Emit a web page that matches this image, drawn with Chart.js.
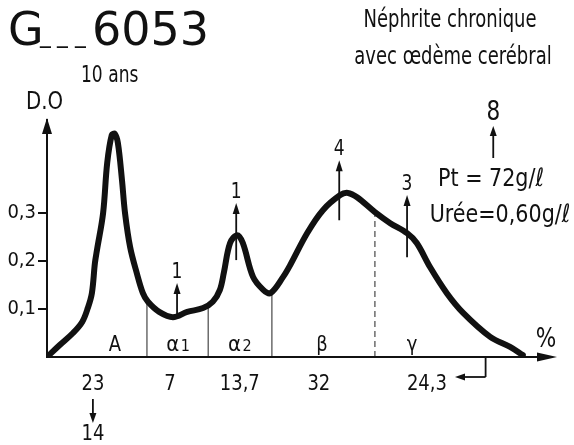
<!DOCTYPE html>
<html lang="fr">
<head>
<meta charset="UTF-8" />
<title>G___6053</title>
<script src="https://cdn.jsdelivr.net/npm/chart.js@4"></script>
<style>
  html, body { margin: 0; padding: 0; background: #fff; }
</style>
</head>
<body>
<canvas id="chart" width="574" height="445"></canvas>
<script>
  // densitometry curve (x: migration distance, arbitrary 0-100 ; y: D.O)
  const curveX = [0, 2.5, 5.1, 6.9, 8.0, 8.8, 9.4, 9.8, 11.0, 11.8, 12.7, 13.3, 13.9, 14.7, 15.3, 16.3, 17.6, 18.8, 19.8,
    22.0, 24.7, 27.5, 30.6, 32.5, 33.9, 34.7, 35.9, 37.3, 38.4, 40.4, 42.4, 43.8, 46.3, 47.6, 51.0, 54.1, 57.5, 59.0,
    60.8, 64.3, 67.3, 70.6, 72.5, 75.1, 78.4, 81.6, 86.9, 90.8, 93.3];
  const curveY = [0, 0.025, 0.05, 0.073, 0.102, 0.133, 0.196, 0.223, 0.30, 0.404, 0.4625, 0.465, 0.446, 0.369, 0.30, 0.229, 0.175, 0.133, 0.115,
    0.094, 0.083, 0.094, 0.102, 0.115, 0.14, 0.177, 0.2375, 0.254, 0.2375, 0.167, 0.14, 0.133, 0.167, 0.19, 0.258, 0.306, 0.3375, 0.342,
    0.333, 0.302, 0.279, 0.258, 0.2375, 0.1875, 0.133, 0.092, 0.042, 0.021, 0.004];

  const yTicks = [0.1, 0.2, 0.3];

  // fraction boundaries
  const dividerX = [19.6, 31.6, 44.1, 64.3];
  const dividerTop = [0.118, 0.104, 0.133, 0.302];
  const dividerDashed = [false, false, false, true];

  // fractions
  const fractionName = ['A', 'α', 'α', 'β', 'γ'];
  const fractionSub = ['', '1', '2', '', ''];
  const fractionX = [13.3, 25.7, 37.8, 53.9, 71.6];
  const fractionPct = ['23', '7', '13,7', '32', '24,3'];
  const pctX = [9.0, 24.1, 37.8, 53.3, 74.5];

  // arrows over the peaks
  const markX = [25.5, 37.1, 57.3, 70.6];
  const markFrom = [0.083, 0.202, 0.285, 0.208];
  const markTo = [0.154, 0.321, 0.41, 0.3375];
  const markLabel = ['1', '1', '4', '3'];

  const ink = '#111';
  const F = "'DejaVu Sans Condensed', 'DejaVu Sans', sans-serif";

  function arrow(ctx, x1, y1, x2, y2, len, half) {
    const ang = Math.atan2(y2 - y1, x2 - x1);
    ctx.beginPath();
    ctx.moveTo(x1, y1);
    ctx.lineTo(x2 - Math.cos(ang) * (len - 2), y2 - Math.sin(ang) * (len - 2));
    ctx.stroke();
    ctx.beginPath();
    ctx.moveTo(x2, y2);
    ctx.lineTo(x2 - Math.cos(ang) * len - Math.sin(ang) * half, y2 - Math.sin(ang) * len + Math.cos(ang) * half);
    ctx.lineTo(x2 - Math.cos(ang) * len + Math.sin(ang) * half, y2 - Math.sin(ang) * len - Math.cos(ang) * half);
    ctx.closePath();
    ctx.fill();
  }

  // narrow lettering of the original: draw condensed text a bit taller
  function tallText(ctx, t, x, y, size, sy) {
    ctx.save();
    ctx.translate(x, y);
    ctx.scale(1, sy);
    ctx.font = size + 'px ' + F;
    ctx.fillText(t, 0, 0);
    ctx.restore();
  }

  const annotations = {
    id: 'annotations',
    afterDraw(chart) {
      const { ctx, chartArea: a, scales: { x, y } } = chart;
      const y0 = y.getPixelForValue(0);
      ctx.save();
      ctx.fillStyle = ink;
      ctx.strokeStyle = ink;
      ctx.lineWidth = 2;

      // axes
      arrow(ctx, a.left, y0, a.right, y0, 20, 4.5);
      arrow(ctx, a.left, y0, a.left, a.top - 2, 16, 5);

      // titles
      ctx.textBaseline = 'alphabetic';
      ctx.textAlign = 'left';
      ctx.font = "46px 'DejaVu Sans', sans-serif";
      ctx.fillText('G', 8, 45);
      ctx.fillText('6053', 92, 45);
      ctx.font = "24px 'DejaVu Sans Condensed', sans-serif";
      [40, 57, 75].forEach(px => ctx.fillText('_', px, 42));
      tallText(ctx, '10 ans', 81, 82, 19, 1.2);
      tallText(ctx, 'D.O', 26, 109, 22, 1.1);

      ctx.textAlign = 'center';
      tallText(ctx, 'Néphrite chronique', 450, 27, 20, 1.2);
      tallText(ctx, 'avec œdème cerébral', 453, 64, 20, 1.2);

      tallText(ctx, 'Pt = 72g/ℓ', 491, 186, 23, 1.1);
      tallText(ctx, 'Urée=0,60g/ℓ', 500, 222, 23, 1.1);

      // 8 arrow
      ctx.lineWidth = 1.8;
      const px8 = x.getPixelForValue(87.5);
      arrow(ctx, px8, 158, px8, 126, 10, 3.5);
      tallText(ctx, '8', px8, 120, 24, 1.1);

      // peak arrows
      markX.forEach((v, i) => {
        const px = x.getPixelForValue(v);
        const yf = y.getPixelForValue(markFrom[i]);
        const yt = y.getPixelForValue(markTo[i]);
        arrow(ctx, px, yf, px, yt, 11, 3.5);
        tallText(ctx, markLabel[i], px, yt - 5, 19, 1.1);
      });

      // fraction names
      fractionName.forEach((n, i) => {
        const px = x.getPixelForValue(fractionX[i]);
        ctx.font = '21px ' + F;
        if (fractionSub[i]) {
          const w1 = ctx.measureText(n).width;
          ctx.font = '16px ' + F;
          const w2 = ctx.measureText(fractionSub[i]).width;
          const left = px - (w1 + w2 + 2) / 2;
          ctx.textAlign = 'left';
          ctx.font = '22px ' + F;
          ctx.fillText(n, left, y0 - 6);
          ctx.font = '16px ' + F;
          ctx.fillText(fractionSub[i], left + w1 + 2, y0 - 6);
          ctx.textAlign = 'center';
        } else {
          tallText(ctx, n, px, y0 - 6, 20, 1.1);
        }
      });

      // percentages
      fractionPct.forEach((t, i) => {
        tallText(ctx, t, x.getPixelForValue(pctX[i]), y0 + 33, 20, 1.1);
      });
      tallText(ctx, '14', x.getPixelForValue(pctX[0]), y0 + 83, 20, 1.1);
      tallText(ctx, '%', 546, y0 - 10, 24, 1.1);

      ctx.lineWidth = 1.8;
      const p23 = x.getPixelForValue(pctX[0]);
      arrow(ctx, p23, y0 + 42, p23, y0 + 66, 10, 3.5);
      const pk = x.getPixelForValue(86.0);
      ctx.beginPath();
      ctx.moveTo(pk, y0);
      ctx.lineTo(pk, y0 + 20);
      ctx.stroke();
      arrow(ctx, pk, y0 + 20, x.getPixelForValue(80.0), y0 + 20, 10, 3.5);

      ctx.restore();
    }
  };

  const datasets = [{
    data: curveX.map((v, i) => ({ x: v, y: curveY[i] })),
    borderColor: ink,
    borderWidth: 6,
    borderCapStyle: 'round',
    borderJoinStyle: 'round',
    pointRadius: 0,
    tension: 0.35,
    order: 0
  }];
  dividerX.forEach((v, i) => {
    datasets.push({
      data: [{ x: v, y: 0 }, { x: v, y: dividerTop[i] }],
      borderColor: '#222',
      borderWidth: 1,
      borderDash: dividerDashed[i] ? [6, 4] : [],
      pointRadius: 0,
      order: 1
    });
  });

  new Chart(document.getElementById('chart'), {
    type: 'line',
    data: { datasets },
    options: {
      responsive: false,
      animation: false,
      events: [],
      layout: { padding: { left: 0, top: 120, right: 17, bottom: 88 } },
      plugins: { legend: { display: false }, tooltip: { enabled: false } },
      scales: {
        x: { type: 'linear', display: false, min: 0, max: 100 },
        y: {
          min: 0,
          max: 0.494,
          afterBuildTicks: scale => { scale.ticks = yTicks.map(v => ({ value: v })); },
          afterFit: scale => { scale.width = 47; },
          ticks: {
            color: ink,
            padding: 2,
            font: { family: F, size: 20 },
            callback: v => v.toFixed(1).replace('.', ',')
          },
          grid: { drawOnChartArea: false, tickLength: 9, color: ink, lineWidth: 2 },
          border: { display: true, color: ink, width: 2 }
        }
      }
    },
    plugins: [annotations]
  });
</script>
</body>
</html>
